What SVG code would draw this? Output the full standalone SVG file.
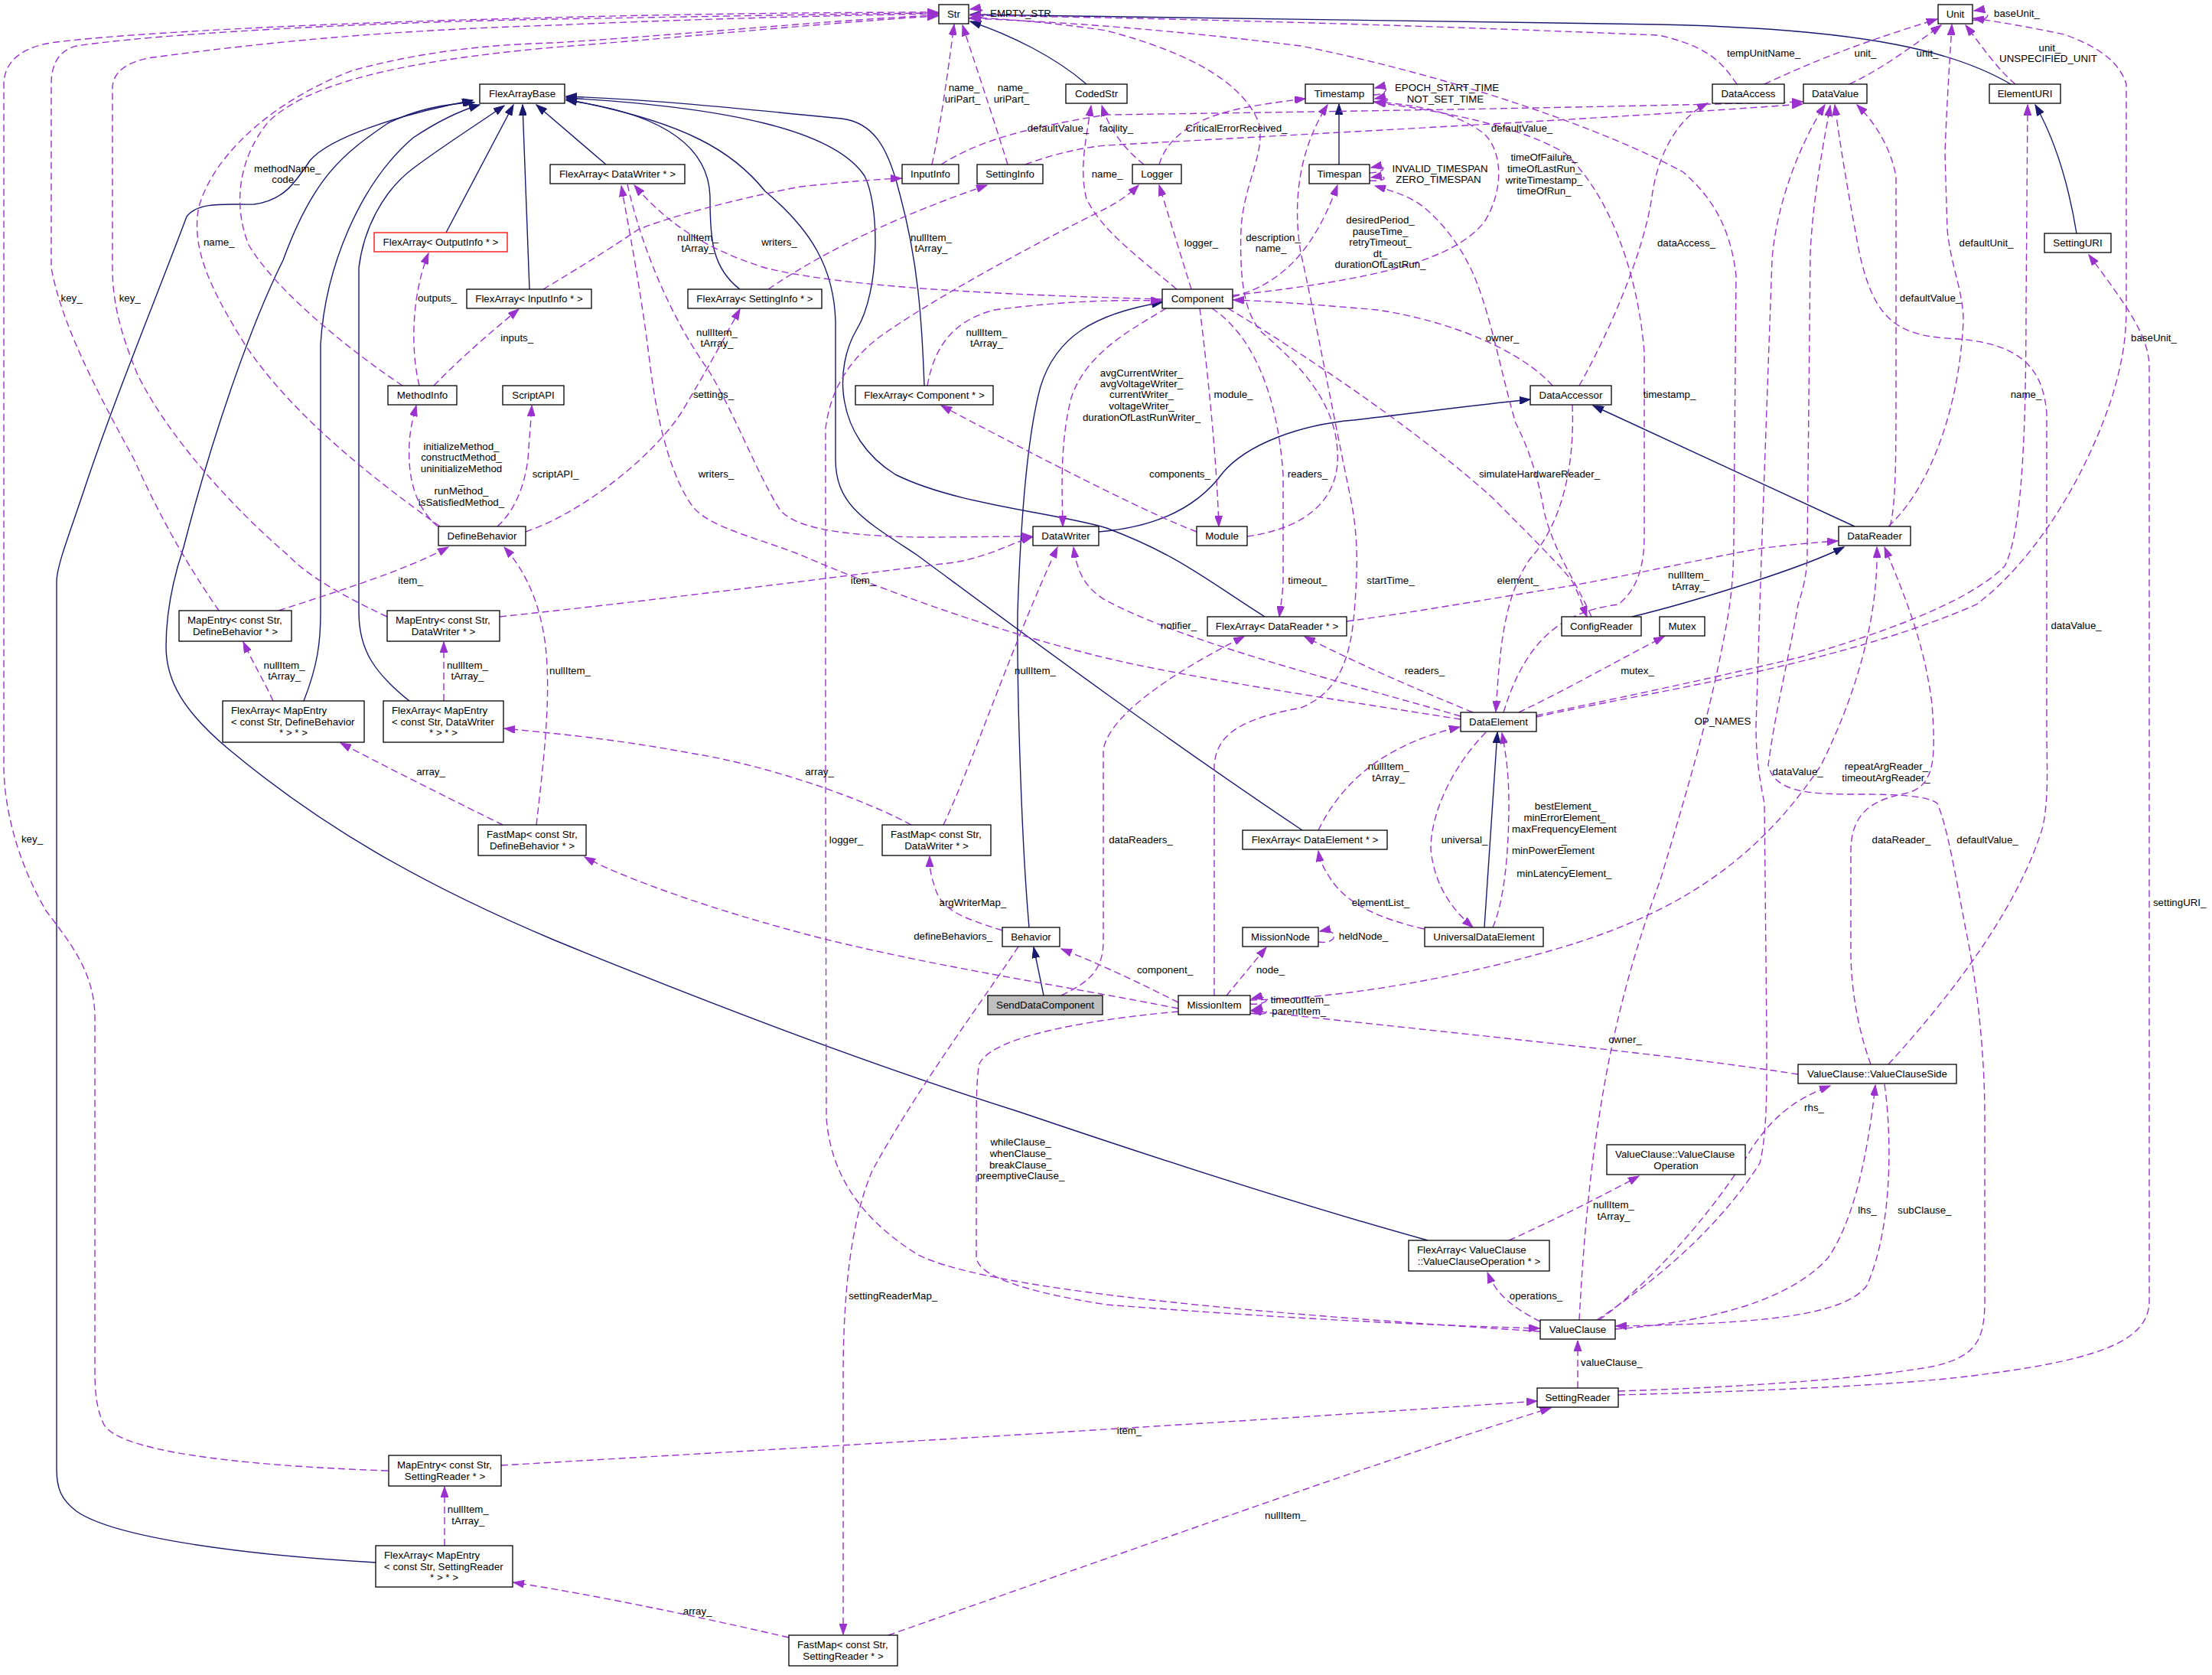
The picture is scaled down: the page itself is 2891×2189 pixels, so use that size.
<svg xmlns="http://www.w3.org/2000/svg" width="2891" height="2189" viewBox="0 0 2891 2189">
<style>
text{font-family:"Liberation Sans",Arial,sans-serif;font-size:13.3px;fill:#000}
.c{text-anchor:middle}
.node rect{fill:#fff;stroke:#000;stroke-width:1.3}
.u{fill:none;stroke:#9a32cd;stroke-width:1.4;stroke-dasharray:9,5;marker-end:url(#ap)}
.i{fill:none;stroke:#191970;stroke-width:1.4;marker-end:url(#ab)}
</style>
<defs>
<marker id="ap" markerWidth="15" markerHeight="10" refX="14" refY="5" orient="auto" markerUnits="userSpaceOnUse"><path d="M0,0 L14,5 L0,10 z" fill="#9a32cd" stroke="#9a32cd"/></marker>
<marker id="ab" markerWidth="15" markerHeight="10" refX="14" refY="5" orient="auto" markerUnits="userSpaceOnUse"><path d="M0,0 L14,5 L0,10 z" fill="#191970" stroke="#191970"/></marker>
</defs>
<rect x="0" y="0" width="2891" height="2189" fill="#fff"/>
<g id="edges">
<path class="i" d="M1420,110 C1380,75 1320,45 1268,28"/>
<path class="i" d="M2628,110 C2560,70 2450,38 2168,32 C1800,25 1500,20 1268,19"/>
<path class="i" d="M2714,305 C2705,250 2690,190 2660,137"/>
<path class="i" d="M1750,215 L1750,136"/>
<path class="i" d="M792,215 L701,137"/>
<path class="i" d="M583,304 L671,137"/>
<path class="i" d="M692,378 L683,137"/>
<path class="i" d="M967,378 C930,350 928,310 928,260 C928,200 880,150 740,131"/>
<path class="i" d="M1208,504 C1205,420 1200,340 1175,250 C1160,190 1140,160 1100,155 C950,140 850,130 740,126"/>
<path class="i" d="M1653,806 C1580,760 1540,725 1446,690 C1380,670 1250,660 1170,620 C1090,570 1090,480 1120,430 C1150,380 1150,270 1130,230 C1090,170 950,140 740,128"/>
<path class="i" d="M1702,1085 C1500,950 1300,800 1198,725 C1130,680 1092,660 1092,600 L1092,420 C1090,350 1060,300 1000,250 C960,200 900,160 740,130"/>
<path class="i" d="M397,916 C415,870 419,840 419,800 L419,450 C425,350 470,240 540,180 C570,160 600,145 627,137"/>
<path class="i" d="M535,916 C490,880 469,850 469,800 L469,350 C475,300 500,250 540,220 C580,190 620,165 659,138"/>
<path class="i" d="M491,2042 C320,2032 150,2010 100,1975 C80,1960 74,1945 74,1920 L74,760 C74,740 90,700 110,640 C150,520 200,400 244,283 C260,262 300,268 332,267 C370,262 385,240 405,210 C430,180 520,150 618,131"/>
<path class="i" d="M1866,1621 C1700,1575 1500,1510 1332,1453 C1100,1380 850,1280 723,1228 C550,1155 420,1080 300,980 C240,930 217,890 217,845 C217,800 225,760 240,715 C280,560 330,420 370,340 C410,230 450,200 507,161 C550,140 590,135 620,134"/>
<path class="i" d="M1345,1212 C1335,1100 1329,900 1330,800 C1335,650 1345,560 1360,505 C1380,440 1430,410 1519,395"/>
<path class="i" d="M1364,1301 L1351,1238"/>
<path class="i" d="M1436,695 C1500,690 1560,670 1598,618 C1630,580 1700,555 1769,549 C1850,540 1920,530 2000,522"/>
<path class="i" d="M2424,688 L2082,530"/>
<path class="i" d="M2133,806 C2200,790 2350,745 2410,715"/>
<path class="i" d="M1940,1212 L1957,957"/>

<path class="u" d="M1266,24 C1292,28 1294,8 1268,12"/>
<path class="u" d="M1218,215 C1230,160 1238,100 1247,32"/>
<path class="u" d="M1317,215 C1300,160 1280,100 1258,33"/>
<path class="u" d="M2270,110 C2250,80 2230,60 2168,46 C1900,35 1600,25 1268,20"/>
<path class="u" d="M507,1922 C300,1915 150,1895 135,1860 C126,1840 124,1820 124,1790 L124,1330 C124,1270 90,1230 60,1190 C25,1130 5,1060 5,1000 L5,110 C5,80 30,60 74,55 C150,45 400,30 723,23 C900,18 1100,16 1226,16"/>
<path class="u" d="M286,798 C260,760 220,700 175,600 C120,500 80,420 67,350 L67,110 C67,80 80,65 100,60 C200,45 450,30 723,25 C900,22 1100,18 1226,17"/>
<path class="u" d="M506,806 C440,775 400,750 378,727 C300,660 220,570 180,490 C155,430 147,390 147,350 L147,115 C147,95 165,80 200,75 C350,55 500,40 723,33 C900,25 1100,20 1226,18"/>
<path class="u" d="M575,688 C480,620 380,540 320,450 C270,370 250,320 260,270 C280,200 360,130 461,92 C560,65 650,58 723,56 C900,45 1100,25 1226,20"/>
<path class="u" d="M526,504 C460,460 360,380 325,320 C305,270 310,210 350,160 C400,110 520,80 723,62 C900,48 1100,28 1226,21"/>
<path class="u" d="M1538,378 C1480,330 1440,300 1420,260 C1410,220 1420,180 1426,138"/>
<path class="u" d="M1495,215 C1470,195 1450,170 1440,138"/>
<path class="u" d="M1515,215 C1525,180 1560,155 1620,142 C1650,136 1680,132 1706,129"/>
<path class="u" d="M1795,124 C1815,124 1818,110 1797,115"/>
<path class="u" d="M1795,133 C1818,137 1820,124 1797,129"/>
<path class="u" d="M1790,226 C1812,226 1815,214 1792,219"/>
<path class="u" d="M1790,236 C1814,238 1816,228 1792,232"/>
<path class="u" d="M1557,378 L1515,242"/>
<path class="u" d="M1611,388 C1680,370 1720,320 1748,242"/>
<path class="u" d="M1611,386 C1800,365 1900,340 1940,290 C1965,250 1965,200 1940,175 C1900,145 1850,137 1797,133"/>
<path class="u" d="M1524,403 C1480,430 1420,460 1400,520 C1385,580 1388,640 1389,688"/>
<path class="u" d="M1568,403 C1580,500 1590,600 1593,688"/>
<path class="u" d="M1584,403 C1640,440 1670,520 1677,620 L1677,760 C1676,780 1674,790 1672,806"/>
<path class="u" d="M2064,504 C2100,440 2150,330 2160,250 C2170,190 2200,150 2232,135"/>
<path class="u" d="M2029,504 C1990,460 1900,420 1800,405 C1720,398 1650,393 1612,392"/>
<path class="u" d="M2055,529 C2058,600 2045,680 2000,730 C1965,780 1960,850 1955,930"/>
<path class="u" d="M1965,931 C1990,850 2030,800 2115,790 C2140,770 2149,740 2149,700 L2149,460 C2140,350 2100,250 2045,200 C1980,160 1850,140 1797,134"/>
<path class="u" d="M1605,403 C1700,460 1850,560 1950,650 C2000,700 2040,740 2055,760 C2065,780 2070,795 2074,806"/>
<path class="u" d="M2080,806 C2060,760 2030,720 2018,668 C2010,620 1995,580 1981,553 C1965,500 1950,420 1930,369 C1915,330 1890,295 1860,270 C1840,255 1815,248 1797,243"/>
<path class="u" d="M1630,701 C1710,690 1752,650 1748,590 C1745,520 1690,470 1650,435 C1625,410 1620,360 1622,300 C1625,240 1655,200 1645,160 C1625,110 1560,70 1446,40 C1380,30 1320,25 1268,23"/>
<path class="u" d="M1587,1301 L1587,1000 C1590,960 1620,940 1700,925 C1750,905 1765,860 1770,800 C1775,740 1775,700 1765,650 C1740,530 1720,420 1700,330 C1690,270 1695,200 1735,137"/>
<path class="u" d="M1603,1301 L1655,1238"/>
<path class="u" d="M1723,1231 C1750,1235 1750,1212 1725,1217"/>
<path class="u" d="M1540,1310 C1500,1290 1450,1265 1387,1240"/>
<path class="u" d="M1634,1312 C1662,1314 1662,1298 1636,1305"/>
<path class="u" d="M1634,1324 C1662,1330 1662,1314 1636,1320"/>
<path class="u" d="M1540,1318 C1400,1290 1200,1260 1050,1220 C900,1180 800,1140 764,1120"/>
<path class="u" d="M1634,1307 C1750,1305 1900,1280 2045,1237 C2200,1190 2300,1120 2380,1000 C2430,900 2455,800 2453,715"/>
<path class="u" d="M1540,1322 C1450,1330 1300,1350 1280,1390 C1276,1410 1276,1440 1276,1500 L1276,1644 C1280,1670 1350,1690 1446,1705 C1700,1725 1900,1733 2012,1736"/>
<path class="u" d="M2350,1404 C2200,1380 1900,1350 1635,1321"/>
<path class="u" d="M2468,1391 C2560,1290 2640,1180 2670,1080 C2678,1040 2675,1000 2675,950 L2675,540 C2670,480 2640,450 2560,443 C2480,440 2450,420 2430,330 C2415,250 2405,190 2398,137"/>
<path class="u" d="M2445,1391 C2430,1350 2420,1300 2419,1250 L2419,1110 C2420,1060 2450,1045 2490,1037 C2530,1028 2530,990 2525,920 C2515,840 2490,780 2463,715"/>
<path class="u" d="M2087,1725 C2170,1670 2250,1600 2300,1520 C2310,1480 2309,1420 2309,1350 L2306,1050 C2300,1020 2295,990 2295,950 L2302,730 L2316,340 C2320,280 2345,200 2385,137"/>
<path class="u" d="M2115,1823 C2300,1818 2500,1810 2600,1795 C2750,1775 2809,1750 2809,1700 L2809,480 C2809,440 2780,400 2730,333"/>
<path class="u" d="M2115,1818 C2300,1812 2450,1800 2530,1785 C2580,1772 2594,1755 2594,1700 L2594,1460 C2594,1380 2585,1290 2569,1214 C2555,1140 2545,1080 2532,1050 C2520,1040 2480,1038 2430,1038 C2360,1038 2320,1035 2311,1000 C2320,930 2340,850 2350,790 C2360,760 2362,740 2362,723 L2366,330 C2370,250 2385,180 2392,138"/>
<path class="u" d="M1760,812 C1850,800 1950,782 2050,766 C2150,748 2250,725 2306,716 C2340,712 2370,709 2402,707"/>
<path class="u" d="M2111,1737 C2200,1730 2330,1710 2389,1644 C2420,1600 2440,1520 2451,1418"/>
<path class="u" d="M2463,1417 C2472,1480 2475,1600 2440,1680 C2410,1720 2300,1730 2112,1733"/>
<path class="u" d="M2090,1725 C2140,1690 2230,1600 2290,1500 C2320,1455 2350,1435 2392,1419"/>
<path class="u" d="M1972,1621 C2030,1595 2090,1565 2142,1537"/>
<path class="u" d="M2013,1727 C1975,1708 1955,1690 1944,1663"/>
<path class="u" d="M2062,1814 L2062,1752"/>
<path class="u" d="M655,1915 C1000,1895 1600,1860 2009,1831"/>
<path class="u" d="M1161,2137 C1450,2036 1800,1910 2027,1840"/>
<path class="u" d="M1031,2140 C900,2110 780,2085 671,2068"/>
<path class="u" d="M581,2020 L581,1943"/>
<path class="u" d="M1331,1237 C1290,1300 1200,1420 1140,1530 C1110,1600 1102,1700 1102,1800 L1102,2136"/>
<path class="u" d="M2013,1740 C1700,1720 1300,1690 1200,1640 C1120,1590 1085,1530 1080,1460 L1079,1000 L1079,560 C1085,510 1110,470 1150,440 C1220,390 1350,320 1446,272 C1465,262 1478,252 1488,242"/>
<path class="u" d="M1233,1078 C1270,1000 1320,850 1382,715"/>
<path class="u" d="M1191,1078 C1120,1040 1000,1000 907,985 C800,965 720,958 659,952"/>
<path class="u" d="M580,916 L580,839"/>
<path class="u" d="M657,1078 C600,1050 520,1010 445,971"/>
<path class="u" d="M357,916 C345,890 330,865 318,839"/>
<path class="u" d="M701,1078 C710,1000 718,930 715,870 C712,800 690,750 659,715"/>
<path class="u" d="M364,798 C450,770 530,745 586,715"/>
<path class="u" d="M653,806 C900,780 1200,740 1248,735 C1300,725 1320,710 1349,702"/>
<path class="u" d="M1909,940 C1750,915 1550,885 1446,860 C1300,825 1150,770 1046,725 C990,703 930,690 907,664 C880,630 860,560 850,480 C838,380 822,300 812,243"/>
<path class="u" d="M1909,936 C1750,890 1550,840 1446,785 C1420,770 1408,750 1403,715"/>
<path class="u" d="M1925,931 C1850,900 1780,870 1705,832"/>
<path class="u" d="M1985,931 C2050,900 2120,860 2175,832"/>
<path class="u" d="M2008,935 C2100,915 2200,895 2352,859 C2450,830 2570,790 2620,740 C2640,700 2648,600 2648,400 L2650,137"/>
<path class="u" d="M2008,937 C2150,905 2400,870 2583,790 C2650,740 2720,640 2760,520 C2775,470 2779,440 2779,400 L2779,110 C2770,80 2740,60 2698,45 C2650,35 2610,28 2579,24"/>
<path class="u" d="M1723,1085 C1750,1030 1800,975 1908,950"/>
<path class="u" d="M1861,1214 C1800,1200 1760,1180 1740,1150 C1730,1135 1725,1125 1723,1112"/>
<path class="u" d="M1942,957 C1900,1000 1870,1060 1870,1110 C1875,1160 1900,1190 1925,1212"/>
<path class="u" d="M1951,1212 C1965,1180 1972,1120 1972,1050 C1972,1010 1968,985 1963,958"/>
<path class="u" d="M2470,688 C2478,660 2478,600 2478,500 L2478,230 C2470,190 2450,160 2427,137"/>
<path class="u" d="M2468,688 C2520,640 2560,540 2566,420 C2566,380 2550,350 2545,300 L2542,200 C2545,120 2549,70 2551,32"/>
<path class="u" d="M2417,110 C2460,90 2500,60 2537,33"/>
<path class="u" d="M2306,110 C2380,75 2450,50 2532,25"/>
<path class="u" d="M2634,110 C2610,90 2590,60 2569,33"/>
<path class="u" d="M2578,26 C2602,30 2606,10 2580,14"/>
<path class="u" d="M1230,215 C1270,190 1320,170 1446,150 C1800,145 2100,140 2356,133"/>
<path class="u" d="M1340,215 C1380,200 1420,192 1446,190 C1800,170 2100,155 2356,136"/>
<path class="u" d="M710,378 C740,360 790,330 834,300 C870,285 960,260 1046,244 C1100,238 1150,234 1178,233"/>
<path class="u" d="M1004,378 C1060,340 1150,290 1290,242"/>
<path class="u" d="M1212,504 C1220,460 1240,420 1300,405 C1400,392 1470,392 1518,393"/>
<path class="u" d="M1564,695 C1500,670 1400,620 1230,530"/>
<path class="u" d="M820,241 C840,330 880,420 926,484 C960,540 990,620 1018,664 C1035,690 1100,700 1200,702 C1260,702 1310,701 1349,701"/>
<path class="u" d="M1519,391 C1300,385 1100,375 1000,350 C920,325 870,290 829,242"/>
<path class="u" d="M548,504 C535,450 540,380 560,331"/>
<path class="u" d="M567,504 C600,470 640,435 678,404"/>
<path class="u" d="M572,688 C540,660 533,620 535,580 C536,560 540,545 544,530"/>
<path class="u" d="M650,688 C670,670 685,640 690,600 C692,570 694,550 695,530"/>
<path class="u" d="M687,695 C760,670 850,600 890,540 C920,490 945,445 967,404"/>
<path class="u" d="M1310,1216 C1260,1200 1230,1190 1222,1160 C1215,1140 1215,1130 1215,1119"/>
<path class="u" d="M1387,1301 C1420,1285 1442,1270 1442,1230 L1442,980 C1450,930 1550,870 1626,832"/>
<path class="u" d="M2064,1725 C2068,1650 2075,1550 2091,1453 C2110,1330 2140,1230 2170,1150 C2200,1050 2230,950 2250,850 C2262,790 2266,760 2266,700 L2269,360 C2262,300 2240,260 2200,225 C2100,170 1900,100 1700,60 C1500,35 1350,27 1268,24"/>

<g id="edge-labels">
<text class="c" x="1334" y="22">EMPTY_STR</text>
<text class="c" x="1260" y="119">name_</text><text class="c" x="1258" y="134">uriPart_</text>
<text class="c" x="1324" y="119">name_</text><text class="c" x="1322" y="134">uriPart_</text>
<text class="c" x="1383" y="172">defaultValue_</text>
<text class="c" x="1459" y="172">facility_</text>
<text class="c" x="1616" y="172">CriticalErrorReceived_</text>
<text class="c" x="1989" y="172">defaultValue_</text>
<text class="c" x="1891" y="119">EPOCH_START_TIME</text><text class="c" x="1889" y="134">NOT_SET_TIME</text>
<text class="c" x="2018" y="210">timeOfFailure_</text><text class="c" x="2018" y="225">timeOfLastRun_</text><text class="c" x="2018" y="239.5">writeTimestamp_</text><text class="c" x="2018" y="254">timeOfRun_</text>
<text class="c" x="1882" y="225">INVALID_TIMESPAN</text><text class="c" x="1880" y="239">ZERO_TIMESPAN</text>
<text class="c" x="1447" y="232">name_</text>
<text class="c" x="1570" y="321.5">logger_</text>
<text class="c" x="1664" y="314.5">description_</text><text class="c" x="1661" y="329">name_</text>
<text class="c" x="1804" y="292.4">desiredPeriod_</text><text class="c" x="1804" y="306.7">pauseTime_</text><text class="c" x="1804" y="321">retryTimeout_</text><text class="c" x="1804" y="335.7">dt_</text><text class="c" x="1804" y="350">durationOfLastRun_</text>
<text class="c" x="2305" y="74">tempUnitName_</text>
<text class="c" x="2438" y="74">unit_</text>
<text class="c" x="2519" y="74">unit_</text>
<text class="c" x="2679" y="66.5">unit_</text><text class="c" x="2677" y="80.8">UNSPECIFIED_UNIT</text>
<text class="c" x="2636" y="21.8">baseUnit_</text>
<text class="c" x="2204" y="321.5">dataAccess_</text>
<text class="c" x="2596" y="321.5">defaultUnit_</text>
<text class="c" x="2523" y="394.3">defaultValue_</text>
<text class="c" x="2815" y="446">baseUnit_</text>
<text class="c" x="2648" y="520">name_</text>
<text class="c" x="2182" y="520">timestamp_</text>
<text class="c" x="1963.5" y="446">owner_</text>
<text class="c" x="2012" y="624">simulateHardwareReader_</text>
<text class="c" x="1542" y="624">components_</text>
<text class="c" x="1709" y="624">readers_</text>
<text class="c" x="1612" y="520">module_</text>
<text class="c" x="1492" y="491.6">avgCurrentWriter_</text><text class="c" x="1492" y="506.3">avgVoltageWriter_</text><text class="c" x="1492" y="520.1">currentWriter_</text><text class="c" x="1492" y="534.9">voltageWriter_</text><text class="c" x="1492" y="550.1">durationOfLastRunWriter_</text>
<text class="c" x="1018.5" y="321.4">writers_</text>
<text class="c" x="912" y="314.5">nullItem_</text><text class="c" x="912" y="328.8">tArray_</text>
<text class="c" x="1217" y="314.5">nullItem_</text><text class="c" x="1217" y="328.8">tArray_</text>
<text class="c" x="937" y="439">nullItem_</text><text class="c" x="937" y="453.3">tArray_</text>
<text class="c" x="1289.4" y="439">nullItem_</text><text class="c" x="1289.4" y="453.3">tArray_</text>
<text class="c" x="932.5" y="520.1">settings_</text>
<text class="c" x="936" y="623.9">writers_</text>
<text class="c" x="375.7" y="225.1">methodName_</text><text class="c" x="373.4" y="239.4">code_</text>
<text class="c" x="286.3" y="321.4">name_</text>
<text class="c" x="93.6" y="394.3">key_</text>
<text class="c" x="169.7" y="394.3">key_</text>
<text class="c" x="571.5" y="394.3">outputs_</text>
<text class="c" x="675.7" y="445.9">inputs_</text>
<text class="c" x="603" y="587.5">initializeMethod_</text><text class="c" x="603" y="602.2">constructMethod_</text><text class="c" x="603" y="617">uninitializeMethod</text><text class="c" x="603" y="631.7">_</text><text class="c" x="603" y="646">runMethod_</text><text class="c" x="603" y="660.7">isSatisfiedMethod_</text>
<text class="c" x="726" y="623.9">scriptAPI_</text>
<text class="c" x="536.6" y="762.8">item_</text>
<text class="c" x="371.6" y="873.9">nullItem_</text><text class="c" x="371.6" y="887.7">tArray_</text>
<text class="c" x="610.9" y="873.9">nullItem_</text><text class="c" x="610.9" y="887.7">tArray_</text>
<text class="c" x="563" y="1012.7">array_</text>
<text class="c" x="42" y="1101.2">key_</text>
<text class="c" x="745" y="880.9">nullItem_</text>
<text class="c" x="1128" y="762.8">item_</text>
<text class="c" x="1353" y="880.9">nullItem_</text>
<text class="c" x="1071" y="1012.7">array_</text>
<text class="c" x="1106" y="1102.2">logger_</text>
<text class="c" x="1271.4" y="1184.2">argWriterMap_</text>
<text class="c" x="1245.6" y="1228">defineBehaviors_</text>
<text class="c" x="1708.8" y="762.8">timeout_</text>
<text class="c" x="1817.4" y="762.8">startTime_</text>
<text class="c" x="1983.8" y="762.8">element_</text>
<text class="c" x="1540.5" y="822.3">notifier_</text>
<text class="c" x="1861.9" y="880.9">readers_</text>
<text class="c" x="2140" y="880.9">mutex_</text>
<text class="c" x="1814.8" y="1005.8">nullItem_</text><text class="c" x="1814.8" y="1020.5">tArray_</text>
<text class="c" x="1491" y="1102.2">dataReaders_</text>
<text class="c" x="1914" y="1102.2">universal_</text>
<text class="c" x="2046.5" y="1058.4">bestElement_</text><text class="c" x="2045" y="1073.1">minErrorElement_</text><text class="c" x="2044.4" y="1087.9">maxFrequencyElement</text><text class="c" x="2044.4" y="1102.2">_</text><text class="c" x="2030" y="1116.4">minPowerElement</text><text class="c" x="2044.4" y="1131.2">_</text><text class="c" x="2044.4" y="1145.5">minLatencyElement_</text>
<text class="c" x="1804.5" y="1184.2">elementList_</text>
<text class="c" x="1782" y="1228">heldNode_</text>
<text class="c" x="1522.5" y="1271.8">component_</text>
<text class="c" x="1660.4" y="1271.8">node_</text>
<text class="c" x="1699" y="1311">timeoutItem_</text><text class="c" x="1697.7" y="1325.7">parentItem_</text>
<text class="c" x="2124" y="1363.1">owner_</text>
<text class="c" x="2207" y="755.9">nullItem_</text><text class="c" x="2207" y="770.7">tArray_</text>
<text class="c" x="2251.4" y="946.7">OP_NAMES</text>
<text class="c" x="2349.6" y="1012.7">dataValue_</text>
<text class="c" x="2465.4" y="1005.8">repeatArgReader_</text><text class="c" x="2465" y="1020.5">timeoutArgReader_</text>
<text class="c" x="2713.6" y="822.3">dataValue_</text>
<text class="c" x="2485" y="1102.2">dataReader_</text>
<text class="c" x="2597.5" y="1102.2">defaultValue_</text>
<text class="c" x="2848.7" y="1184.2">settingURI_</text>
<text class="c" x="2371" y="1451.7">rhs_</text>
<text class="c" x="1334" y="1497">whileClause_</text><text class="c" x="1334" y="1511.7">whenClause_</text><text class="c" x="1334" y="1526.5">breakClause_</text><text class="c" x="1334" y="1540.8">preemptiveClause_</text>
<text class="c" x="1167.2" y="1697.5">settingReaderMap_</text>
<text class="c" x="911.6" y="2110.2">array_</text>
<text class="c" x="611.8" y="1976.9">nullItem_</text><text class="c" x="611.8" y="1991.7">tArray_</text>
<text class="c" x="2109" y="1579">nullItem_</text><text class="c" x="2109" y="1593.8">tArray_</text>
<text class="c" x="2007.5" y="1697.5">operations_</text>
<text class="c" x="2106.4" y="1785.1">valueClause_</text>
<text class="c" x="1476" y="1873.7">item_</text>
<text class="c" x="1680" y="1984.7">nullItem_</text>
<text class="c" x="2440.5" y="1586">lhs_</text>
<text class="c" x="2515.4" y="1586">subClause_</text>
</g>
</g>

<g id="n-str" class="node"><rect x="1227" y="6" width="39" height="25"/><text class="c" x="1246.5" y="23">Str</text></g>
<g id="n-flexarraybase" class="node"><rect x="627" y="110" width="111" height="25"/><text class="c" x="682.5" y="127">FlexArrayBase</text></g>
<g id="n-codedstr" class="node"><rect x="1393" y="110" width="80" height="25"/><text class="c" x="1433" y="127">CodedStr</text></g>
<g id="n-timestamp" class="node"><rect x="1706" y="110" width="89" height="25"/><text class="c" x="1750.5" y="127">Timestamp</text></g>
<g id="n-dataaccess" class="node"><rect x="2238" y="110" width="94" height="25"/><text class="c" x="2285" y="127">DataAccess</text></g>
<g id="n-datavalue" class="node"><rect x="2357" y="110" width="83" height="25"/><text class="c" x="2398.5" y="127">DataValue</text></g>
<g id="n-unit" class="node"><rect x="2533" y="6" width="45" height="25"/><text class="c" x="2555.5" y="23">Unit</text></g>
<g id="n-elementuri" class="node"><rect x="2600" y="110" width="93" height="25"/><text class="c" x="2646.5" y="127">ElementURI</text></g>
<g id="n-settinguri" class="node"><rect x="2672" y="305" width="87" height="25"/><text class="c" x="2715.5" y="322">SettingURI</text></g>
<g id="n-fa-datawriter" class="node"><rect x="719" y="215" width="176" height="25"/><text class="c" x="807" y="232">FlexArray&lt; DataWriter * &gt;</text></g>
<g id="n-inputinfo" class="node"><rect x="1179" y="215" width="74" height="25"/><text class="c" x="1216" y="232">InputInfo</text></g>
<g id="n-settinginfo" class="node"><rect x="1277" y="215" width="86" height="25"/><text class="c" x="1320" y="232">SettingInfo</text></g>
<g id="n-logger" class="node"><rect x="1480" y="215" width="64" height="25"/><text class="c" x="1512" y="232">Logger</text></g>
<g id="n-timespan" class="node"><rect x="1711" y="215" width="79" height="25"/><text class="c" x="1750.5" y="232">Timespan</text></g>
<g id="n-fa-outputinfo" class="node"><rect x="489" y="304" width="174" height="25" style="stroke:#ff0000"/><text class="c" x="576" y="321">FlexArray&lt; OutputInfo * &gt;</text></g>
<g id="n-fa-inputinfo" class="node"><rect x="610" y="378" width="163" height="25"/><text class="c" x="691.5" y="395">FlexArray&lt; InputInfo * &gt;</text></g>
<g id="n-fa-settinginfo" class="node"><rect x="899" y="378" width="175" height="25"/><text class="c" x="986.5" y="395">FlexArray&lt; SettingInfo * &gt;</text></g>
<g id="n-component" class="node"><rect x="1519" y="378" width="92" height="25"/><text class="c" x="1565" y="395">Component</text></g>
<g id="n-methodinfo" class="node"><rect x="507" y="504" width="90" height="25"/><text class="c" x="552" y="521">MethodInfo</text></g>
<g id="n-scriptapi" class="node"><rect x="657" y="504" width="80" height="25"/><text class="c" x="697" y="521">ScriptAPI</text></g>
<g id="n-fa-component" class="node"><rect x="1118" y="504" width="180" height="25"/><text class="c" x="1208" y="521">FlexArray&lt; Component * &gt;</text></g>
<g id="n-dataaccessor" class="node"><rect x="2000" y="504" width="106" height="25"/><text class="c" x="2053" y="521">DataAccessor</text></g>
<g id="n-definebehavior" class="node"><rect x="573" y="688" width="114" height="25"/><text class="c" x="630" y="705">DefineBehavior</text></g>
<g id="n-datawriter" class="node"><rect x="1350" y="688" width="86" height="25"/><text class="c" x="1393" y="705">DataWriter</text></g>
<g id="n-module" class="node"><rect x="1564" y="688" width="66" height="25"/><text class="c" x="1597" y="705">Module</text></g>
<g id="n-datareader" class="node"><rect x="2403" y="688" width="94" height="25"/><text class="c" x="2450" y="705">DataReader</text></g>
<g id="n-me-db" class="node"><rect x="234" y="798" width="147" height="40"/><text x="245" y="815">MapEntry&lt; const Str,</text><text class="c" x="307.5" y="830">DefineBehavior * &gt;</text></g>
<g id="n-me-dw" class="node"><rect x="506" y="798" width="147" height="40"/><text x="517" y="815">MapEntry&lt; const Str,</text><text class="c" x="579.5" y="830">DataWriter * &gt;</text></g>
<g id="n-fa-me-db" class="node"><rect x="291" y="916" width="185" height="54"/><text x="302" y="933">FlexArray&lt; MapEntry</text><text x="302" y="947.7">&lt; const Str, DefineBehavior</text><text class="c" x="383.5" y="962.4">* &gt; * &gt;</text></g>
<g id="n-fa-me-dw" class="node"><rect x="501" y="916" width="157" height="54"/><text x="512" y="933">FlexArray&lt; MapEntry</text><text x="512" y="947.7">&lt; const Str, DataWriter</text><text class="c" x="579.5" y="962.4">* &gt; * &gt;</text></g>
<g id="n-fa-datareader" class="node"><rect x="1578" y="806" width="182" height="25"/><text class="c" x="1669" y="823">FlexArray&lt; DataReader * &gt;</text></g>
<g id="n-configreader" class="node"><rect x="2041" y="806" width="104" height="25"/><text class="c" x="2093" y="823">ConfigReader</text></g>
<g id="n-mutex" class="node"><rect x="2169" y="806" width="59" height="25"/><text class="c" x="2198.5" y="823">Mutex</text></g>
<g id="n-dataelement" class="node"><rect x="1909" y="931" width="99" height="25"/><text class="c" x="1958.5" y="948">DataElement</text></g>
<g id="n-fm-db" class="node"><rect x="625" y="1078" width="141" height="40"/><text x="636" y="1095">FastMap&lt; const Str,</text><text class="c" x="695.5" y="1110">DefineBehavior * &gt;</text></g>
<g id="n-fm-dw" class="node"><rect x="1153" y="1078" width="142" height="40"/><text x="1164" y="1095">FastMap&lt; const Str,</text><text class="c" x="1224" y="1110">DataWriter * &gt;</text></g>
<g id="n-fa-dataelement" class="node"><rect x="1624" y="1085" width="189" height="25"/><text class="c" x="1718.5" y="1102">FlexArray&lt; DataElement * &gt;</text></g>
<g id="n-behavior" class="node"><rect x="1310" y="1212" width="75" height="25"/><text class="c" x="1347.5" y="1229">Behavior</text></g>
<g id="n-missionnode" class="node"><rect x="1624" y="1212" width="99" height="25"/><text class="c" x="1673.5" y="1229">MissionNode</text></g>
<g id="n-ude" class="node"><rect x="1862" y="1212" width="155" height="25"/><text class="c" x="1939.5" y="1229">UniversalDataElement</text></g>
<g id="n-senddatacomponent" class="node"><rect x="1291" y="1301" width="150" height="25" style="fill:#bfbfbf"/><text class="c" x="1366" y="1318">SendDataComponent</text></g>
<g id="n-missionitem" class="node"><rect x="1540" y="1301" width="94" height="25"/><text class="c" x="1587" y="1318">MissionItem</text></g>
<g id="n-vcside" class="node"><rect x="2350" y="1391" width="207" height="25"/><text class="c" x="2453.5" y="1408">ValueClause::ValueClauseSide</text></g>
<g id="n-vcop" class="node"><rect x="2100" y="1496" width="181" height="39"/><text x="2111" y="1513">ValueClause::ValueClause</text><text class="c" x="2190.5" y="1527.5">Operation</text></g>
<g id="n-fa-vcop" class="node"><rect x="1841" y="1621" width="184" height="40"/><text x="1852" y="1638.4">FlexArray&lt; ValueClause</text><text class="c" x="1933" y="1653">::ValueClauseOperation * &gt;</text></g>
<g id="n-valueclause" class="node"><rect x="2013" y="1725" width="98" height="25"/><text class="c" x="2062" y="1742">ValueClause</text></g>
<g id="n-settingreader" class="node"><rect x="2009" y="1814" width="106" height="25"/><text class="c" x="2062" y="1831">SettingReader</text></g>
<g id="n-me-sr" class="node"><rect x="508" y="1902" width="147" height="40"/><text x="519" y="1919">MapEntry&lt; const Str,</text><text class="c" x="581.5" y="1934">SettingReader * &gt;</text></g>
<g id="n-fa-me-sr" class="node"><rect x="491" y="2020" width="179" height="54"/><text x="502" y="2037">FlexArray&lt; MapEntry</text><text x="502" y="2051.7">&lt; const Str, SettingReader</text><text class="c" x="580.5" y="2066.4">* &gt; * &gt;</text></g>
<g id="n-fm-sr" class="node"><rect x="1031" y="2137" width="142" height="40"/><text x="1042" y="2154">FastMap&lt; const Str,</text><text class="c" x="1102" y="2169">SettingReader * &gt;</text></g>
</svg>
